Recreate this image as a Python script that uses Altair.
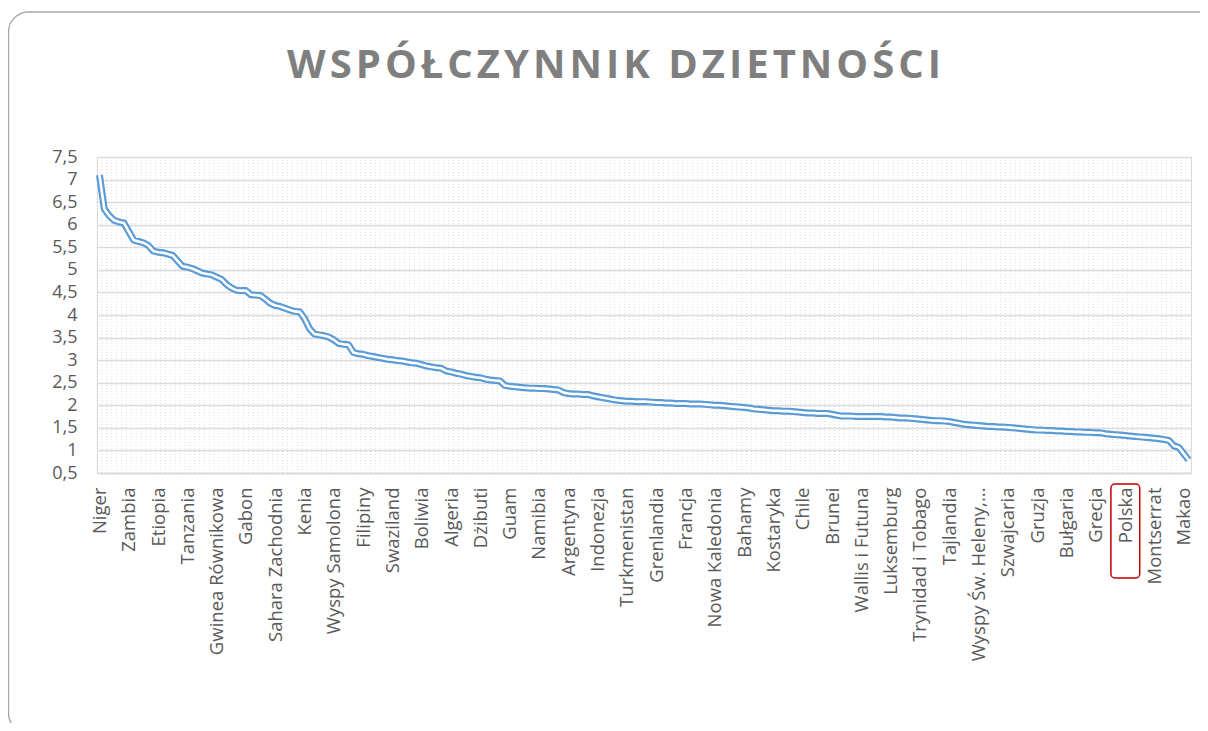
import altair as alt
import pandas as pd

TITLE = "WSPÓŁCZYNNIK DZIETNOŚCI"

# fertility rate per country, sorted descending
VALUES = [
    7.10, 6.35, 6.20, 6.10, 6.06, 6.04, 5.85, 5.66, 5.63, 5.60,
    5.54, 5.42, 5.39, 5.38, 5.35, 5.32, 5.20, 5.08, 5.06, 5.03,
    4.98, 4.93, 4.91, 4.89, 4.84, 4.79, 4.68, 4.60, 4.55, 4.54,
    4.54, 4.45, 4.44, 4.43, 4.35, 4.26, 4.21, 4.19, 4.15, 4.11,
    4.08, 4.07, 3.92, 3.70, 3.58, 3.56, 3.54, 3.51, 3.45, 3.37,
    3.35, 3.34, 3.17, 3.14, 3.13, 3.10, 3.08, 3.06, 3.04, 3.02,
    3.01, 2.99, 2.98, 2.96, 2.94, 2.93, 2.90, 2.87, 2.85, 2.83,
    2.82, 2.76, 2.74, 2.71, 2.69, 2.66, 2.64, 2.62, 2.61, 2.58,
    2.56, 2.55, 2.54, 2.44, 2.42, 2.41, 2.40, 2.39, 2.38, 2.38,
    2.37, 2.37, 2.36, 2.35, 2.34, 2.28, 2.26, 2.25, 2.25, 2.24,
    2.24, 2.21, 2.19, 2.17, 2.15, 2.13, 2.11, 2.10, 2.09, 2.09,
    2.08, 2.08, 2.08, 2.07, 2.06, 2.06, 2.05, 2.05, 2.04, 2.04,
    2.04, 2.03, 2.03, 2.03, 2.02, 2.01, 2.00, 2.00, 1.99, 1.98,
    1.97, 1.96, 1.95, 1.94, 1.92, 1.91, 1.90, 1.89, 1.88, 1.88,
    1.87, 1.87, 1.86, 1.85, 1.84, 1.83, 1.83, 1.82, 1.82, 1.82,
    1.80, 1.78, 1.76, 1.76, 1.76, 1.75, 1.75, 1.75, 1.75, 1.75,
    1.75, 1.74, 1.74, 1.73, 1.72, 1.72, 1.71, 1.70, 1.69, 1.68,
    1.67, 1.66, 1.66, 1.65, 1.64, 1.62, 1.60, 1.58, 1.57, 1.56,
    1.55, 1.54, 1.53, 1.53, 1.52, 1.52, 1.51, 1.50, 1.49, 1.48,
    1.47, 1.46, 1.45, 1.45, 1.44, 1.44, 1.43, 1.43, 1.42, 1.42,
    1.41, 1.41, 1.40, 1.40, 1.39, 1.39, 1.37, 1.36, 1.35, 1.34,
    1.33, 1.32, 1.31, 1.30, 1.29, 1.28, 1.27, 1.26, 1.24, 1.22,
    1.10, 1.07, 0.93, 0.79,
]

# category labels shown on the axis (every 6th country)
LABELS = [
    "Niger", "Zambia", "Etiopia", "Tanzania", "Gwinea Równikowa", "Gabon",
    "Sahara Zachodnia", "Kenia", "Wyspy Samolona", "Filipiny", "Swaziland",
    "Boliwia", "Algeria", "Dżibuti", "Guam", "Namibia", "Argentyna",
    "Indonezja", "Turkmenistan", "Grenlandia", "Francja", "Nowa Kaledonia",
    "Bahamy", "Kostaryka", "Chile", "Brunei", "Wallis i Futuna", "Luksemburg",
    "Trynidad i Tobago", "Tajlandia", "Wyspy Św. Heleny,...", "Szwajcaria",
    "Gruzja", "Bułgaria", "Grecja", "Polska", "Montserrat", "Makao",
]
LABEL_STEP = 6
Y_TICKS = [0.5, 1, 1.5, 2, 2.5, 3, 3.5, 4, 4.5, 5, 5.5, 6, 6.5, 7, 7.5]
HIGHLIGHT = "Polska"

W, H = 1094, 316
N = len(VALUES)

df = pd.DataFrame({"idx": list(range(N)), "val": VALUES})
grid_df = pd.DataFrame({"b": [i - 0.5 for i in range(N + 1)]})
hl = LABELS.index(HIGHLIGHT) * LABEL_STEP
hl_df = pd.DataFrame({"x1": [hl - 2.9], "x2": [hl + 3.0]})

xscale = alt.Scale(domain=[-0.5, N - 0.5], nice=False, zero=False)
yscale = alt.Scale(domain=[0.5, 7.5], nice=False, zero=False)

label_js = "[" + ",".join("'" + s + "'" for s in LABELS) + "]"
xaxis = alt.Axis(
    values=[i * LABEL_STEP for i in range(len(LABELS))],
    labelExpr=f"{label_js}[round(datum.value/{LABEL_STEP})]",
    labelAngle=270, grid=False, ticks=False, domain=True,
    domainColor="#D9D9D9", domainWidth=1.5,
    labelFont="Open Sans", labelFontSize=18.5, labelColor="#595959",
    labelPadding=14, title=None, labelOverlap=False, labelBound=False,
    labelFlush=False,
)
yaxis = alt.Axis(
    values=Y_TICKS,
    labelExpr="replace(toString(datum.value), '.', ',')",
    grid=True, gridColor="#DCDCDC", gridWidth=1.5, ticks=False, domain=False,
    labelFont="Open Sans", labelFontSize=18, labelColor="#595959",
    labelPadding=20, title=None,
)

X = alt.X("idx:Q", scale=xscale, axis=xaxis)
Y = alt.Y("val:Q", scale=yscale, axis=yaxis)

border = alt.Chart(pd.DataFrame({"k": [0]})).mark_rect(
    fillOpacity=0, stroke="#A6A6A6", strokeWidth=1.3, cornerRadius=20
).encode(
    x=alt.value(-88.5), x2=alt.value(W + 40), y=alt.value(-145), y2=alt.value(576)
)

vgrid = alt.Chart(grid_df).mark_rule(
    color="#D0D0D0", strokeDash=[1, 2], strokeWidth=1, opacity=0.7
).encode(
    x=alt.X("b:Q", scale=xscale, axis=xaxis), y=alt.value(0), y2=alt.value(H)
)

line_outer = alt.Chart(df).mark_line(
    color="#5B9BD5", strokeWidth=7, strokeJoin="round", strokeCap="butt"
).encode(x=X, y=Y)

line_inner = alt.Chart(df).mark_line(
    color="white", strokeWidth=2.6, strokeJoin="round", strokeCap="butt"
).encode(x=X, y=Y)

box = alt.Chart(hl_df).mark_rect(
    fillOpacity=0, stroke="#C00000", strokeWidth=1.5, cornerRadius=4
).encode(
    x=alt.X("x1:Q", scale=xscale, axis=xaxis), x2="x2:Q",
    y=alt.value(327), y2=alt.value(421),
)

spaced_title = "\u200a".join(TITLE)

chart = alt.layer(border, vgrid, line_outer, line_inner, box).properties(
    width=W, height=H,
    autosize=alt.AutoSizeParams(type="none"),
    padding={"left": 89, "top": 149, "right": 9, "bottom": 250},
    title=alt.TitleParams(
        spaced_title, font="Open Sans", fontSize=40, fontWeight="bold",
        color="#7F7F7F", anchor="middle", frame="group", offset=-75, dx=-30,
    ),
).configure_view(stroke=None).configure(background="white")

chart.save("out.html", embed_options={"renderer": "svg", "actions": False})
